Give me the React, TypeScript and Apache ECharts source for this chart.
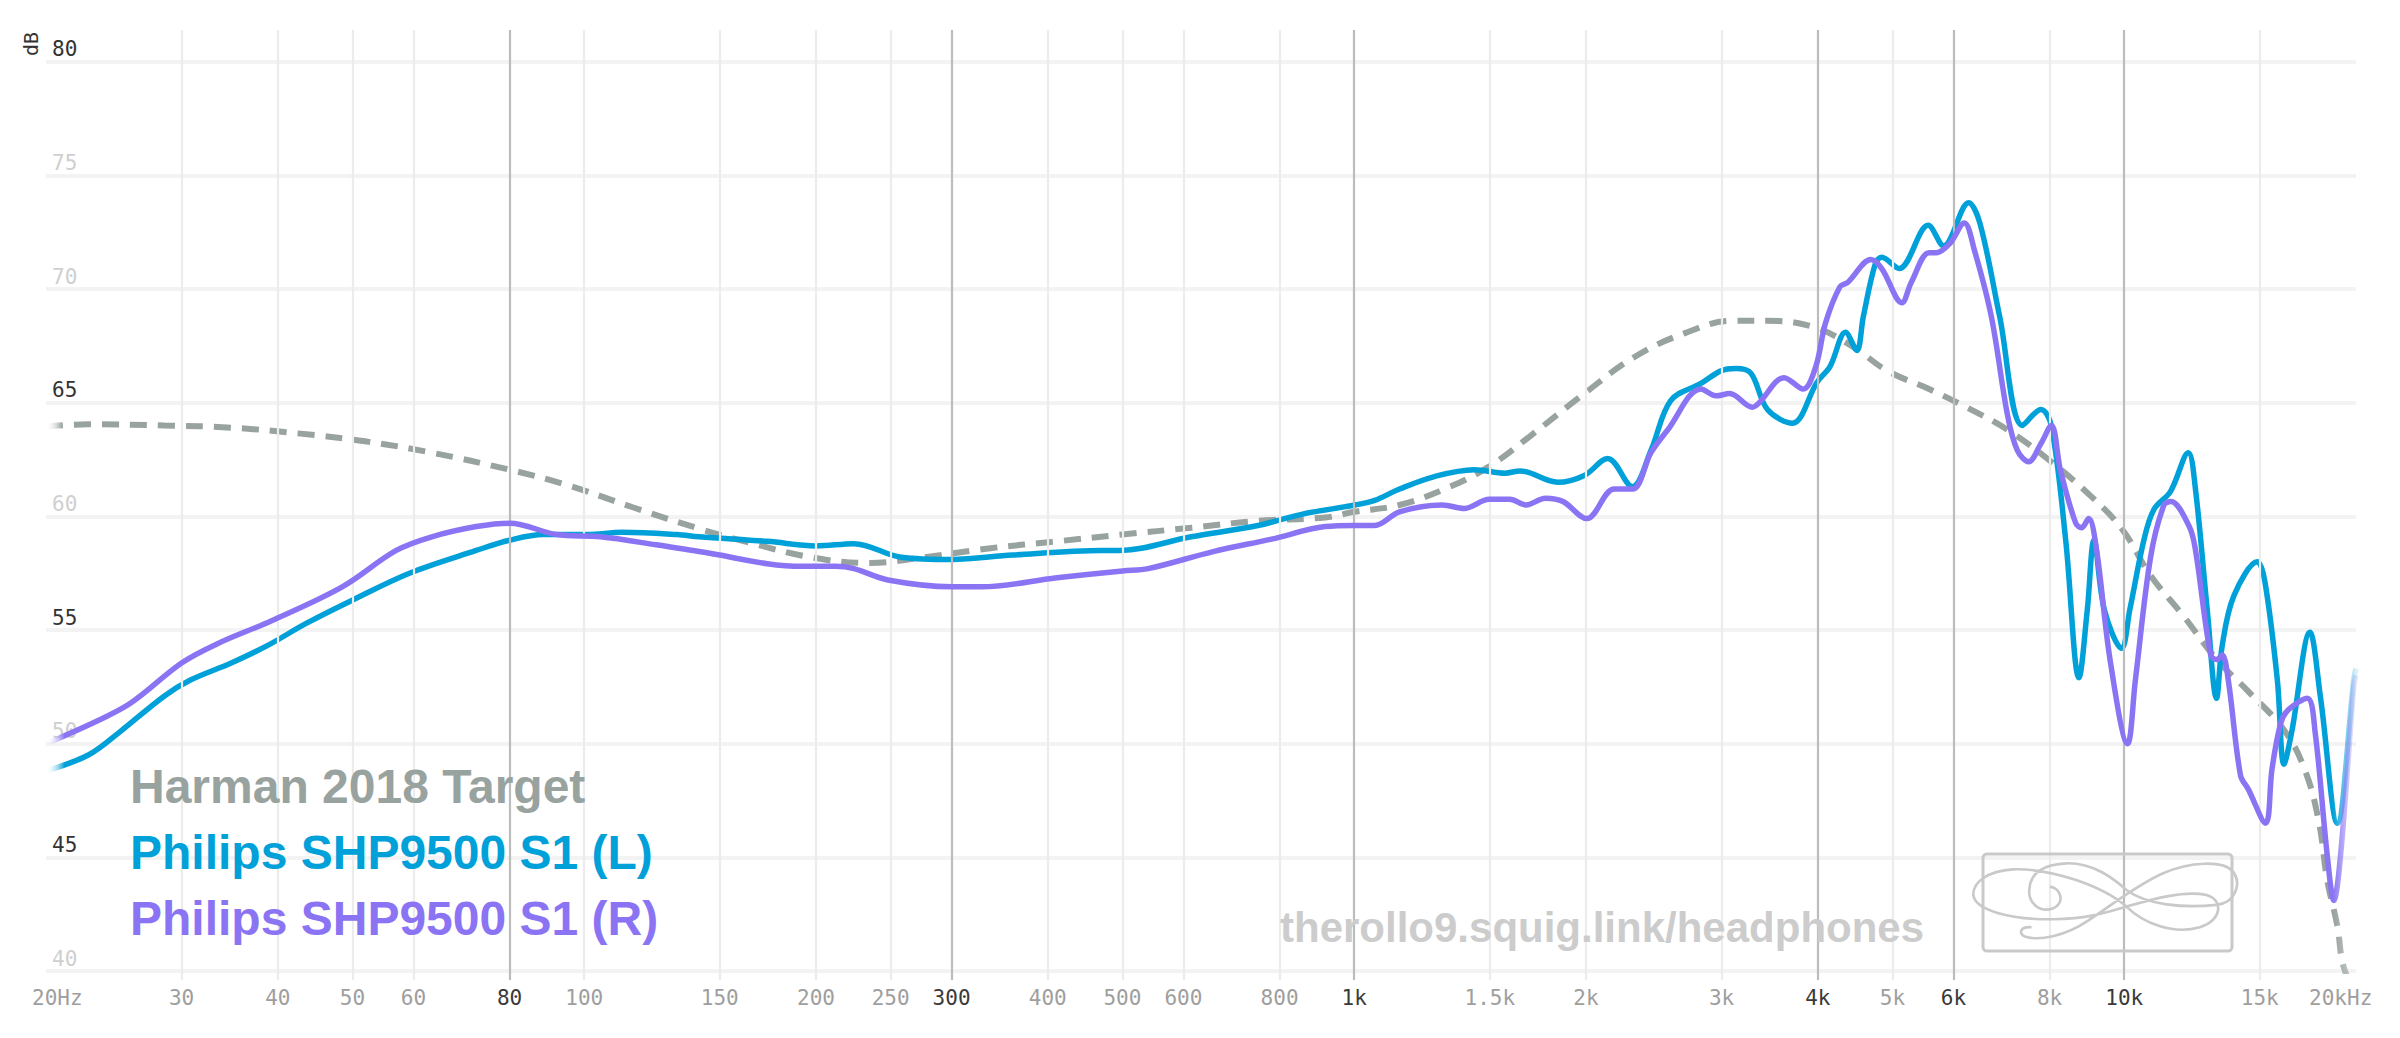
import React, { useEffect, useRef } from "react";
import * as echarts from "echarts";

// ---------- axis ticks ----------
const FREQ_TICKS = [20, 30, 40, 50, 60, 80, 100, 150, 200, 250, 300, 400, 500, 600, 800, 1000, 1500, 2000, 3000, 4000, 5000, 6000, 8000, 10000, 15000, 20000];
const FREQ_LABELS = ["20Hz", "30", "40", "50", "60", "80", "100", "150", "200", "250", "300", "400", "500", "600", "800", "1k", "1.5k", "2k", "3k", "4k", "5k", "6k", "8k", "10k", "15k", "20kHz"];
const MAJOR_TICKS = [80, 300, 1000, 4000, 6000, 10000];
const EDGE_TICKS = [20, 20000];
const DB_DARK = [80, 65, 55, 45];

// ---------- series ----------
const HARMAN_F = [20, 22.7, 28.5, 34.8, 42.5, 51.9, 63.4, 80, 94.6, 115.6, 141.3, 161.5, 197, 235, 276, 337, 411, 500, 614, 750, 917, 1000, 1145, 1331, 1498, 1688, 1990, 2309, 2684, 3104, 3440, 3934, 4425, 4926, 5579, 6237, 7059, 7970, 9045, 9955, 10820, 11950, 13190, 14490, 16125, 17140, 17890, 18350, 18910, 19270, 20000];
const HARMAN_DB = [63.95, 64.05, 64.0, 63.9, 63.65, 63.3, 62.8, 62.05, 61.4, 60.4, 59.45, 58.9, 58.2, 57.95, 58.2, 58.6, 58.9, 59.2, 59.5, 59.8, 59.95, 60.2, 60.5, 61.3, 62.2, 63.5, 65.4, 67.0, 68.05, 68.6, 68.6, 68.35, 67.5, 66.4, 65.6, 64.8, 63.8, 62.5, 60.9, 59.4, 57.4, 55.6, 53.7, 52.3, 50.6, 48.9, 46.6, 44.0, 42.0, 40.2, 39.0];

const LEFT_F = [20, 22.7, 24.9, 28.5, 30.8, 34.8, 38.7, 43.6, 49.9, 59.3, 72.4, 80, 88.5, 101, 112, 132, 141, 173, 200, 224, 258, 300, 360, 470, 496, 614, 750, 857, 1003, 1063, 1145, 1271, 1432, 1570, 1641, 1838, 1990, 2134, 2298, 2429, 2578, 2821, 2994, 3131, 3274, 3441, 3707, 3991, 4150, 4346, 4494, 4584, 4750, 4843, 5100, 5565, 5826, 6281, 6495, 6890, 7377, 7796, 8041, 8395, 8735, 8956, 9137, 9422, 9919, 10170, 10606, 10928, 11487, 12110, 12365, 12817, 13179, 13403, 13879, 14888, 15235, 15808, 16125, 16500, 17425, 17990, 18910, 19870, 20000];
const LEFT_DB = [48.8, 49.5, 50.5, 52.1, 52.8, 53.55, 54.3, 55.3, 56.3, 57.5, 58.5, 58.95, 59.2, 59.2, 59.3, 59.2, 59.1, 58.9, 58.7, 58.8, 58.2, 58.1, 58.3, 58.5, 58.5, 59.1, 59.6, 60.1, 60.5, 60.7, 61.2, 61.75, 62.05, 61.9, 62.0, 61.5, 61.8, 62.55, 61.3, 62.9, 65.1, 65.85, 66.4, 66.5, 66.3, 64.7, 64.1, 65.9, 66.6, 68.1, 67.3, 68.8, 71.1, 71.4, 70.9, 72.8, 71.9, 73.8, 72.9, 68.8, 64.0, 64.7, 64.0, 58.95, 52.9, 55.9, 58.95, 55.9, 54.2, 55.9, 58.95, 60.3, 61.1, 62.8, 61.3, 55.9, 52.0, 54.3, 56.5, 58.0, 57.1, 52.8, 49.1, 50.5, 54.9, 52.0, 46.5, 52.8, 53.3];

const RIGHT_F = [20, 23.3, 25.8, 30.0, 33.4, 39.2, 48.5, 57.0, 63.4, 72.4, 80, 92, 105, 124, 141, 192, 212, 224, 248, 300, 328, 411, 500, 540, 656, 781, 917, 1000, 1063, 1145, 1301, 1390, 1498, 1593, 1671, 1772, 1867, 2005, 2176, 2298, 2429, 2553, 2821, 2950, 3073, 3290, 3357, 3616, 3828, 3977, 4093, 4274, 4378, 4689, 4843, 5144, 5291, 5579, 5707, 5935, 6198, 6390, 6720, 7059, 7265, 7513, 7796, 8041, 8267, 8650, 8800, 8990, 9200, 9595, 10100, 10340, 10820, 11260, 11500, 12130, 12365, 12950, 13190, 13403, 13650, 14160, 14490, 15260, 15560, 15970, 16350, 17290, 17700, 18350, 18720, 19100, 19870, 20000];
const RIGHT_DB = [50.0, 51.0, 51.8, 53.55, 54.4, 55.4, 56.9, 58.5, 59.1, 59.55, 59.7, 59.2, 59.1, 58.75, 58.45, 57.8, 57.8, 57.7, 57.2, 56.9, 56.9, 57.3, 57.6, 57.7, 58.45, 59.0, 59.55, 59.6, 59.6, 60.2, 60.5, 60.35, 60.75, 60.75, 60.5, 60.8, 60.65, 59.9, 61.2, 61.2, 62.8, 63.8, 65.6, 65.3, 65.4, 64.8, 65.0, 66.1, 65.6, 66.6, 68.5, 70.1, 70.3, 71.3, 70.9, 69.4, 70.3, 71.6, 71.6, 72.0, 72.9, 71.7, 68.8, 64.4, 62.9, 62.4, 63.2, 64.0, 62.0, 59.7, 59.5, 59.9, 58.6, 53.6, 50.0, 52.8, 58.2, 60.5, 60.65, 59.6, 58.6, 53.9, 53.7, 53.9, 52.8, 48.6, 48.0, 46.5, 48.9, 50.9, 51.5, 52.0, 50.5, 45.1, 43.1, 45.1, 52.5, 53.0];

const LEGEND_NAMES = ["Harman 2018 Target", "Philips SHP9500 S1 (L)", "Philips SHP9500 S1 (R)"];
const WATERMARK = "therollo9.squig.link/headphones";

const COLOR_TARGET = "#98a29f";
const COLOR_L = "#00a0d9";
const COLOR_R = "#8b74f4";

const LOGO_D =
  "M 470 200 C 400 140 250 85 130 88 C 50 92 8 130 10 165 C 14 210 120 240 250 238 C 360 236 420 215 470 200 C 540 180 640 150 710 165 C 760 178 760 240 690 262 C 610 285 520 250 470 200 Z " +
  "M 240 140 C 275 145 285 190 250 205 C 210 220 175 190 178 150 C 180 100 220 72 290 70 C 370 68 430 115 470 150 C 530 195 640 205 740 195 C 800 188 815 130 790 95 C 760 60 660 65 580 100 C 500 135 420 200 350 245 C 290 285 210 305 165 290 C 145 282 150 258 185 262";

echarts.graphic.registerShape("logo", echarts.graphic.extendPath(LOGO_D, {}));

const zip = (f: number[], v: number[]) => f.map((x, i) => [x, v[i]]);

const MONO = "'DejaVu Sans Mono', monospace";
const SANS = "'Liberation Sans', Arial, sans-serif";

function fade(color: string, left: number, right: number, endAlpha: number) {
  return new echarts.graphic.LinearGradient(0, 0, 1, 0, [
    { offset: 0, color: "rgba(255,255,255,0)" },
    { offset: left, color },
    { offset: right, color },
    { offset: 1, color: endAlpha < 1 ? echarts.color.modifyAlpha(color, endAlpha) : color },
  ]);
}

export default function App() {
  const ref = useRef<HTMLDivElement>(null);
  useEffect(() => {
    document.body.style.margin = "0";
    const chart = echarts.init(ref.current!, null, { renderer: "svg" });

    const gridMarks = FREQ_TICKS.map((f, i) => {
      const major = MAJOR_TICKS.includes(f);
      const edge = EDGE_TICKS.includes(f);
      let offset = [0, 0];
      // keep edge marks just inside the axis extent so they are not filtered out
      let coord = f;
      if (f === 20) {
        offset = [11, 0];
        coord = f * 1.001;
      }
      if (f === 20000) {
        offset = [-15, 0];
        coord = f * 0.999;
      }
      return {
        xAxis: coord,
        lineStyle: {
          color: edge ? "rgba(0,0,0,0)" : major ? "#bcbcbc" : "#ececec",
          width: 2.2,
          type: "solid",
        },
        label: {
          show: true,
          position: "start",
          formatter: FREQ_LABELS[i],
          color: major ? "#3a3a3a" : "#9e9e9e",
          fontFamily: MONO,
          fontSize: 21,
          distance: 7,
          offset,
        },
      };
    });

    const option: any = {
      animation: false,
      backgroundColor: "#ffffff",
      grid: [
        { left: 46, right: 44, top: 61.7, bottom: 67, containLabel: false },
        { left: 46, right: 44, top: 30, bottom: 58, containLabel: false },
      ],
      xAxis: [
        {
          gridIndex: 0,
          type: "log",
          logBase: 10,
          min: 20,
          max: 20000,
          axisLine: { show: false },
          axisTick: { show: false },
          axisLabel: { show: false },
          splitLine: { show: false },
        },
        {
          gridIndex: 1,
          type: "log",
          logBase: 10,
          min: 20,
          max: 20000,
          show: false,
          axisLine: { show: false },
          axisTick: { show: false },
          axisLabel: { show: false },
          splitLine: { show: false },
        },
      ],
      yAxis: [
        {
          gridIndex: 0,
          type: "value",
          min: 40,
          max: 80,
          interval: 5,
          axisLine: { show: false },
          axisTick: { show: false },
          splitLine: { show: true, lineStyle: { color: "#f3f3f3", width: 4 } },
          axisLabel: {
            inside: true,
            margin: 6,
            align: "left",
            verticalAlign: "middle",
            padding: [0, 0, 25, 0],
            formatter: (v: number) => (DB_DARK.includes(v) ? `{d|${v}}` : `{l|${v}}`),
            rich: {
              d: { color: "#333333", fontFamily: MONO, fontSize: 21 },
              l: { color: "#cfcfcf", fontFamily: MONO, fontSize: 21 },
            },
          },
        },
        {
          gridIndex: 1,
          type: "value",
          min: 39.6,
          max: 81.39,
          show: false,
          axisLine: { show: false },
          axisTick: { show: false },
          axisLabel: { show: false },
          splitLine: { show: false },
        },
      ],
      series: [
        {
          type: "line",
          xAxisIndex: 1,
          yAxisIndex: 1,
          data: [[1000, 60]],
          showSymbol: false,
          symbol: "none",
          lineStyle: { opacity: 0 },
          silent: true,
          z: 1,
          markLine: {
            silent: true,
            symbol: ["none", "none"],
            animation: false,
            emphasis: { disabled: true },
            data: gridMarks,
          },
        },
        {
          name: LEGEND_NAMES[0],
          type: "line",
          data: zip(HARMAN_F, HARMAN_DB),
          showSymbol: false,
          symbol: "none",
          smooth: 0.4,
          clip: true,
          z: 3,
          lineStyle: {
            width: 6,
            type: [17, 11],
            color: fade(COLOR_TARGET, 0.007, 0.99, 0.5),
          },
        },
        {
          name: LEGEND_NAMES[1],
          type: "line",
          data: zip(LEFT_F, LEFT_DB),
          showSymbol: false,
          symbol: "none",
          smooth: 0.35,
          z: 4,
          lineStyle: { width: 5.5, color: fade(COLOR_L, 0.008, 0.99, 0.15) },
        },
        {
          name: LEGEND_NAMES[2],
          type: "line",
          data: zip(RIGHT_F, RIGHT_DB),
          showSymbol: false,
          symbol: "none",
          smooth: 0.35,
          z: 5,
          lineStyle: { width: 5.5, color: fade(COLOR_R, 0.008, 0.99, 0.15) },
        },
      ],
      graphic: [
        {
          type: "text",
          x: 31,
          y: 44,
          z: 100,
          rotation: Math.PI / 2,
          style: { text: "dB", fill: "#333333", fontFamily: MONO, fontSize: 20, align: "center", verticalAlign: "middle" },
        },
        {
          type: "text",
          x: 130,
          y: 786,
          z: 100,
          style: { text: LEGEND_NAMES[0], fill: COLOR_TARGET, fontFamily: SANS, fontWeight: "bold", fontSize: 48, verticalAlign: "middle" },
        },
        {
          type: "text",
          x: 130,
          y: 852.5,
          z: 100,
          style: { text: LEGEND_NAMES[1], fill: COLOR_L, fontFamily: SANS, fontWeight: "bold", fontSize: 48, verticalAlign: "middle" },
        },
        {
          type: "text",
          x: 130,
          y: 918.5,
          z: 100,
          style: { text: LEGEND_NAMES[2], fill: COLOR_R, fontFamily: SANS, fontWeight: "bold", fontSize: 48, verticalAlign: "middle" },
        },
        {
          type: "text",
          x: 1280,
          y: 927,
          z: 100,
          style: { text: WATERMARK, fill: "#cccccc", fontFamily: SANS, fontWeight: "bold", fontSize: 42, verticalAlign: "middle" },
        },
        {
          type: "rect",
          z: 100,
          shape: { x: 1983, y: 854, width: 249, height: 97, r: 4 },
          style: { fill: "none", stroke: "#c9c9c9", lineWidth: 3 },
        },
        {
          type: "logo",
          z: 100,
          x: 1970,
          y: 840,
          scaleX: 1 / 3,
          scaleY: 1 / 3,
          style: { fill: "none", stroke: "#c9c9c9", lineWidth: 8 },
        },
      ],
    };
    chart.setOption(option);
    return () => chart.dispose();
  }, []);
  return <div ref={ref} style={{ width: 2400, height: 1038 }} />;
}
